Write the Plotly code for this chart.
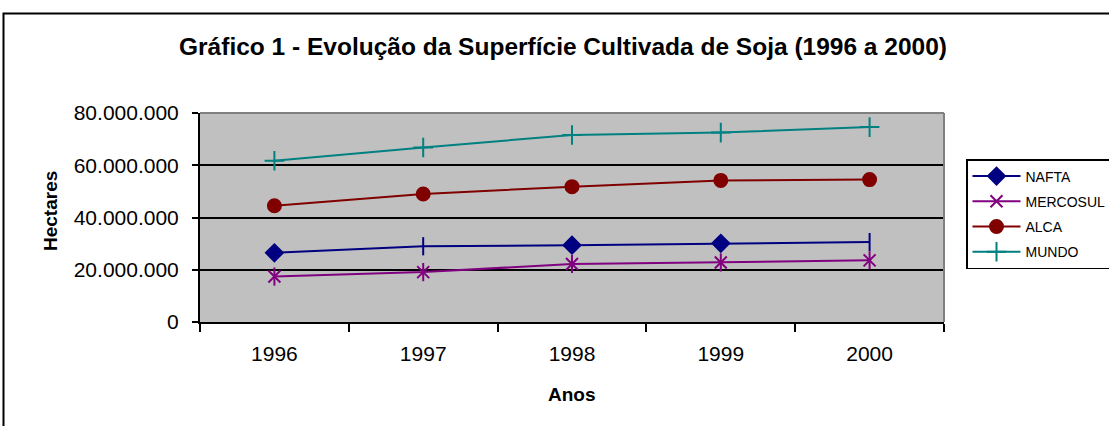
import plotly.graph_objects as go

anos = ["1996", "1997", "1998", "1999", "2000"]
nafta = [26.5e6, 29.0e6, 29.4e6, 30.1e6, 30.6e6]
mercosul = [17.4e6, 19.1e6, 22.2e6, 22.8e6, 23.6e6]
alca = [44.5e6, 49.0e6, 51.8e6, 54.2e6, 54.5e6]
mundo = [61.7e6, 66.8e6, 71.6e6, 72.5e6, 74.6e6]
y_ticks = [0, 20e6, 40e6, 60e6, 80e6]
y_tick_labels = ["0", "20.000.000", "40.000.000", "60.000.000", "80.000.000"]

W, H = 1109, 426
L, R, T, B = 200, 944, 113, 322  # plot area in pixels


def px(x):
    return (x - L) / (R - L)


def py(y):
    return (B - y) / (B - T)


FONT = "Liberation Sans, Arial, sans-serif"

fig = go.Figure()
series = [
    ("NAFTA", nafta, "#000080", ["diamond", "line-ns-open", "diamond", "diamond", "line-ns-open"], 13),
    ("MERCOSUL", mercosul, "#800080", "x-thin-open", 12),
    ("ALCA", alca, "#800000", "circle", 13),
    ("MUNDO", mundo, "#008080", "cross-thin-open", 14),
]
for name, vals, color, sym, size in series:
    fig.add_trace(go.Scatter(
        x=anos, y=vals, name=name, mode="lines+markers", legendgroup=name,
        line=dict(color=color, width=2),
        marker=dict(symbol=sym, size=size, color=color, line=dict(color=color, width=2)),
    ))
    if name == "MERCOSUL":
        fig.add_trace(go.Scatter(
            x=anos, y=vals, mode="markers", legendgroup=name, showlegend=False,
            marker=dict(symbol="line-ns-open", size=13, color=color,
                        line=dict(color=color, width=2)),
            hoverinfo="skip",
        ))

fig.update_layout(
    width=W, height=H,
    margin=dict(l=L, r=W - R, t=T, b=H - B, autoexpand=False),
    paper_bgcolor="white", plot_bgcolor="#C0C0C0",
    font=dict(family=FONT, color="black"),
    showlegend=True,
    legend=dict(
        x=px(966), y=py(159), xanchor="left", yanchor="top",
        bordercolor="black", borderwidth=1.5, bgcolor="white",
        font=dict(size=14, family=FONT), tracegroupgap=4, itemwidth=48,
    ),
    xaxis=dict(
        type="category", tickson="boundaries", ticks="outside", ticklen=8,
        tickcolor="black", tickwidth=1.5, showline=True, linecolor="black", linewidth=2,
        showgrid=False, tickfont=dict(size=21), ticklabelstandoff=12,
        range=[-0.5, 4.5],
    ),
    yaxis=dict(
        range=[0, 80e6], tickvals=y_ticks, ticktext=y_tick_labels,
        ticks="outside", ticklen=6, tickcolor="black", tickwidth=1.5,
        showline=True, linecolor="black", linewidth=2,
        showgrid=True, gridcolor="black", gridwidth=2,
        tickfont=dict(size=21), zeroline=False, ticklabelstandoff=9,
    ),
    shapes=[
        dict(type="line", xref="paper", yref="paper", x0=0, x1=1, y0=1, y1=1,
             line=dict(color="#808080", width=2), layer="above"),
        dict(type="line", xref="paper", yref="paper", x0=1, x1=1, y0=0, y1=1,
             line=dict(color="#808080", width=2), layer="above"),
        dict(type="rect", xref="paper", yref="paper", x0=px(3.5), x1=px(1130),
             y0=py(13.5), y1=py(450), line=dict(color="black", width=2)),
    ],
    annotations=[
        dict(text="<b>Gráfico 1 - Evolução da Superfície Cultivada de Soja (1996 a 2000)</b>",
             xref="paper", yref="paper", x=px(563), y=py(47), showarrow=False,
             xanchor="center", yanchor="middle", font=dict(size=24.5)),
        dict(text="<b>Hectares</b>", xref="paper", yref="paper", x=px(50), y=py(211),
             showarrow=False, textangle=-90, xanchor="center", yanchor="middle",
             font=dict(size=19)),
        dict(text="<b>Anos</b>", xref="paper", yref="paper", x=px(572), y=py(394),
             showarrow=False, xanchor="center", yanchor="middle", font=dict(size=19)),
    ],
)

fig.write_html("out.html", config={"displayModeBar": False},
               post_script="document.body.style.margin='0';")
